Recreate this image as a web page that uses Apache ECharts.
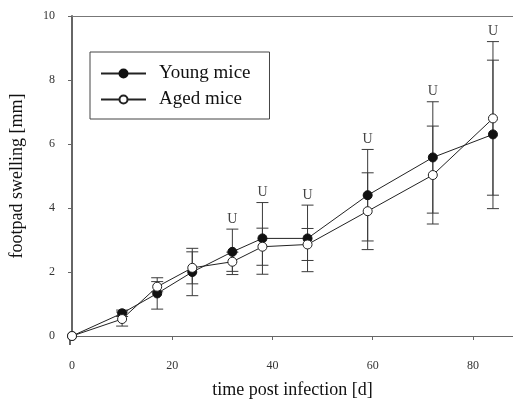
<!DOCTYPE html>
<html><head><meta charset="utf-8">
<script src="https://cdn.jsdelivr.net/npm/echarts@6/dist/echarts.min.js"></script>
<style>html,body{margin:0;padding:0;background:#fff}#c{width:513px;height:406px}</style>
</head><body><div id="c"></div>
<script>
var days = [0, 10, 17, 24, 32, 38, 47, 59, 72, 84];
var young = [0, 0.71, 1.33, 2.0, 2.63, 3.05, 3.05, 4.4, 5.58, 6.3];
var youngErr = [0, 0.1, 0.49, 0.74, 0.71, 1.12, 1.04, 1.43, 1.74, 2.32];
var aged = [0, 0.53, 1.54, 2.13, 2.32, 2.79, 2.86, 3.9, 5.03, 6.8];
var agedErr = [0, 0.22, 0.16, 0.5, 0.3, 0.58, 0.5, 1.2, 1.53, 2.4];
var uDays = [32, 38, 47, 59, 72, 84];
var xTicks = [0, 20, 40, 60, 80];

var FONT = '"Liberation Serif", "Times New Roman", serif';
var chart = echarts.init(document.getElementById('c'), null, {renderer: 'canvas'});

function errData(vals, errs) {
  return days.map(function (d, i) { return [d, vals[i] - errs[i], vals[i] + errs[i]]; }).filter(function (r, i) { return errs[i] > 0; });
}
var uData = uDays.map(function (d) {
  var i = days.indexOf(d);
  return [d, Math.max(young[i] + youngErr[i], aged[i] + agedErr[i])];
});

function errRender(params, api) {
  var x = api.value(0);
  var lo = api.coord([x, api.value(1)]);
  var hi = api.coord([x, api.value(2)]);
  var w = 6;
  var st = {stroke: '#3a3a3a', lineWidth: 1};
  return {type: 'group', children: [
    {type: 'line', shape: {x1: lo[0], y1: lo[1], x2: hi[0], y2: hi[1]}, style: st},
    {type: 'line', shape: {x1: lo[0] - w, y1: lo[1], x2: lo[0] + w, y2: lo[1]}, style: st},
    {type: 'line', shape: {x1: hi[0] - w, y1: hi[1], x2: hi[0] + w, y2: hi[1]}, style: st}
  ]};
}

chart.setOption({
  animation: false,
  backgroundColor: '#fff',
  grid: {left: 70, right: 0, top: 16, bottom: 70},
  legend: {
    left: 90, top: 52, orient: 'vertical',
    padding: [12, 19, 10, 10], itemGap: 7,
    itemWidth: 45, itemHeight: 10,
    borderColor: '#444', borderWidth: 1,
    textStyle: {fontFamily: FONT, fontSize: 19, color: '#111', padding: [0, 0, 0, 8]},
    data: ['Young mice', 'Aged mice']
  },
  xAxis: [{
    type: 'value', min: 0, max: 88, interval: 20, offset: 7,
    name: 'time post infection [d]', nameLocation: 'middle', nameGap: 38,
    nameTextStyle: {fontFamily: FONT, fontSize: 18, color: '#111'},
    axisLine: {show: true, lineStyle: {color: '#666', width: 1}},
    axisTick: {show: true, inside: false, length: 4, lineStyle: {color: '#666'}},
    axisLabel: {fontFamily: FONT, fontSize: 12, color: '#333', margin: 17,
      customValues: xTicks},
    splitLine: {show: false}
  }, {
    type: 'value', min: 0, max: 88, position: 'top',
    axisLine: {show: true, lineStyle: {color: '#777', width: 1}},
    axisTick: {show: false}, axisLabel: {show: false}, splitLine: {show: false}
  }],
  yAxis: {
    type: 'value', min: 0, max: 10, interval: 2,
    name: 'footpad swelling [mm]', nameLocation: 'middle', nameGap: 46,
    nameTextStyle: {fontFamily: FONT, fontSize: 18, color: '#111'},
    axisLine: {show: true, lineStyle: {color: '#666', width: 2}},
    axisTick: {show: true, inside: false, length: 4, lineStyle: {color: '#666'}},
    axisLabel: {fontFamily: FONT, fontSize: 12, color: '#333', margin: 17},
    splitLine: {show: false}
  },
  graphic: [{type: 'line', shape: {x1: 70, y1: 336, x2: 70, y2: 345}, style: {stroke: '#666', lineWidth: 2}}],
  series: [
    {type: 'custom', name: 'errY', renderItem: errRender, data: errData(young, youngErr), z: 1, silent: true},
    {type: 'custom', name: 'errA', renderItem: errRender, data: errData(aged, agedErr), z: 1, silent: true},
    {
      name: 'Young mice', type: 'line', z: 3,
      data: days.map(function (d, i) { return [d, young[i]]; }),
      symbol: 'circle', symbolSize: 9, showAllSymbol: true, clip: false,
      lineStyle: {color: '#222', width: 1},
      itemStyle: {color: '#111', borderColor: '#111', borderWidth: 1}
    },
    {
      name: 'Aged mice', type: 'line', z: 4,
      data: days.map(function (d, i) { return [d, aged[i]]; }),
      symbol: 'circle', symbolSize: 9, showAllSymbol: true, clip: false,
      lineStyle: {color: '#222', width: 1},
      itemStyle: {color: '#fff', borderColor: '#222', borderWidth: 1}
    },
    {
      type: 'custom', name: 'U', z: 5, silent: true,
      data: uData,
      renderItem: function (params, api) {
        var p = api.coord([api.value(0), api.value(1)]);
        return {type: 'text', x: p[0], y: p[1] - 3,
          style: {text: 'U', fill: '#444', font: '14px ' + FONT, textAlign: 'center', textVerticalAlign: 'bottom'}};
      }
    }
  ]
});
</script>
</body></html>
